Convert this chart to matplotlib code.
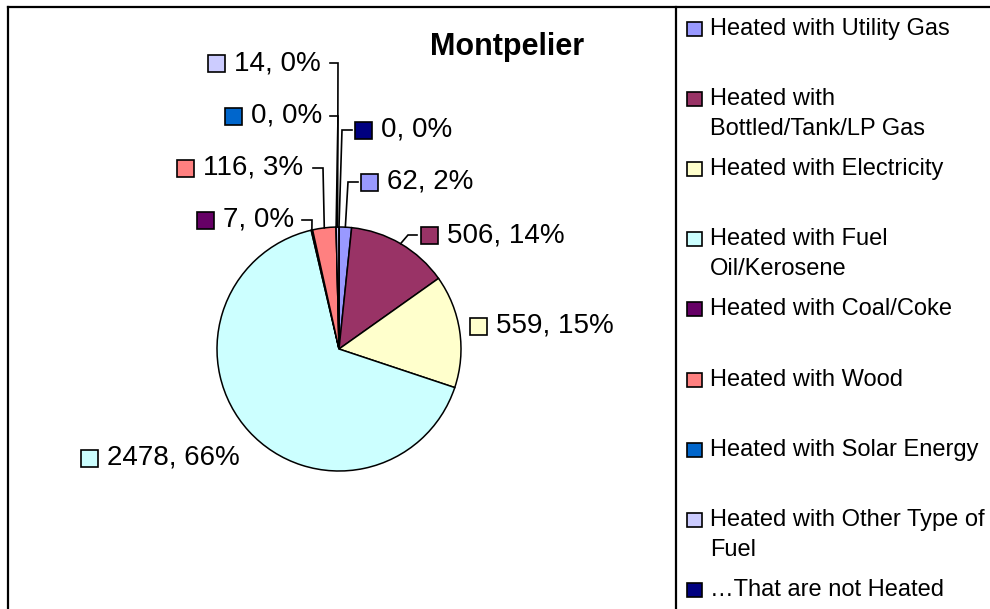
import matplotlib.pyplot as plt
from matplotlib.patches import Rectangle
import numpy as np

plt.rcParams['font.family'] = ['Liberation Sans', 'DejaVu Sans']

W, H = 990, 609

# ---- data -----------------------------------------------------------------
categories = [
    'Heated with Utility Gas',
    'Heated with\nBottled/Tank/LP Gas',
    'Heated with Electricity',
    'Heated with Fuel\nOil/Kerosene',
    'Heated with Coal/Coke',
    'Heated with Wood',
    'Heated with Solar Energy',
    'Heated with Other Type of\nFuel',
    '\u2026That are not Heated',
]
counts = [62, 506, 559, 2478, 7, 116, 0, 14, 0]
colors = ['#9999FF', '#993366', '#FFFFCC', '#CCFFFF', '#660066',
          '#FF8080', '#0066CC', '#CCCCFF', '#000080']

# label placement in pixels: marker left x, centre y, leader start x, elbow x
# (None -> label sits next to the pie, no leader)
label_pos = [
    (361, 182, 358, 348),
    (421, 235, 417, 408),
    (470, 326, None, None),
    (81, 458, None, None),
    (197, 220, 302, 312),
    (177, 168, 313, 323),
    (225, 116, 330, 338),
    (208, 63, 330, 338),
    (355, 130, 352, 342),
]

cx, cy, R = 339, 349, 122

fig = plt.figure(figsize=(W / 100, H / 100), dpi=100)
ax = fig.add_axes([0, 0, 1, 1])

def Y(py):
    return H - py

ax.pie(counts, colors=colors, startangle=90, counterclock=False,
       center=(cx, Y(cy)), radius=R,
       wedgeprops=dict(edgecolor='black', linewidth=1.1))

ax.set_xlim(0, W)
ax.set_ylim(0, H)
ax.set_aspect('equal')
ax.axis('off')

total = sum(counts)
cum = np.cumsum([0] + counts[:-1])

for i, (v, c) in enumerate(zip(counts, colors)):
    mx, my, lx, ex = label_pos[i]
    ms = 17
    ax.add_patch(Rectangle((mx, Y(my) - ms / 2), ms, ms, facecolor=c,
                           edgecolor='black', lw=1.2, zorder=5))
    pct = round(100 * v / total)
    ax.text(mx + ms + 9, Y(my), f'{v}, {pct}%', fontsize=20,
            va='center', ha='left', zorder=5)
    if lx is not None:
        frac = (cum[i] + v / 2) / total
        ang = np.deg2rad(90 - 360 * frac)
        axx = cx + R * np.cos(ang)
        axy = Y(cy) + R * np.sin(ang)
        ax.plot([lx, ex, axx], [Y(my), Y(my), axy], color='black', lw=1.2,
                solid_joinstyle='miter', zorder=4)

# title
ax.text(507, Y(47), 'Montpelier', fontsize=22, fontweight='bold',
        ha='center', va='center')

# legend
for i, (lab, c) in enumerate(zip(categories, colors)):
    ly = 29 + 70.1 * i
    ax.add_patch(Rectangle((687, Y(ly) - 7), 15, 14, facecolor=c,
                           edgecolor='black', lw=1.2))
    for j, line in enumerate(lab.split('\n')):
        ax.text(710, Y(ly + 30 * j), line, fontsize=17, ha='left', va='center')

# chart area and legend borders
ax.plot([8, W], [Y(7), Y(7)], color='black', lw=1.6, clip_on=False)
ax.plot([8, 8], [Y(7), 0], color='black', lw=1.6, clip_on=False)
ax.plot([676, 676], [Y(7), 0], color='black', lw=1.6, clip_on=False)

fig.savefig('out.png', dpi=100)
